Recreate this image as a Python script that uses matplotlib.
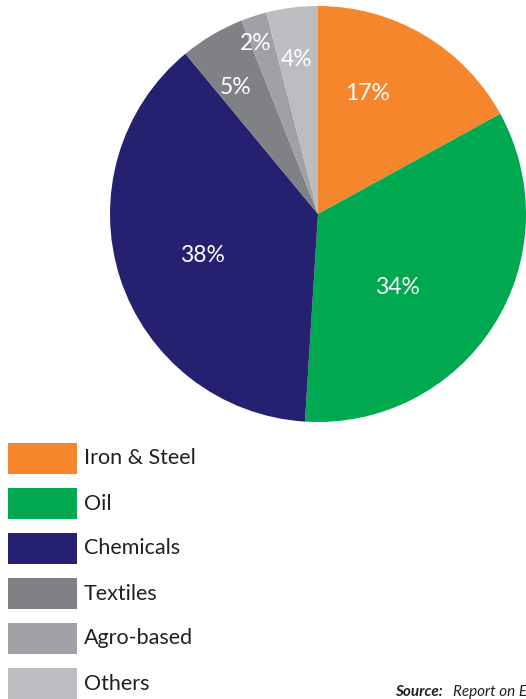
import matplotlib

matplotlib.use("Agg")

import matplotlib.pyplot as plt  # noqa: E402
from matplotlib.patches import Rectangle  # noqa: E402

sectors = ["Iron & Steel", "Oil", "Chemicals", "Textiles", "Agro-based", "Others"]
shares = [17, 34, 38, 5, 2, 4]
colors = ["#F5862B", "#00A94F", "#25206F", "#808184", "#A0A1A5", "#BCBDC1"]

W, H = 526, 699
FONT = "Lato"
INK = "#231F20"

fig = plt.figure(figsize=(W / 100, H / 100), dpi=100)
ax = fig.add_axes([0, 0, 1, 1])

cx, cy, r = 318, H - 214, 208
wedges, _, pct_texts = ax.pie(
    shares,
    colors=colors,
    center=(cx, cy),
    radius=r,
    startangle=90,
    counterclock=False,
    autopct="%d%%",
    pctdistance=0.6,
    textprops=dict(color="white", fontsize=16.5, family=FONT),
    wedgeprops=dict(linewidth=0),
    frame=True,
)
ax.set_xlim(0, W)
ax.set_ylim(0, H)
ax.set_aspect("equal")
ax.axis("off")

# hand-placed percentage labels (pixel positions, y from top)
label_xy = [(368, 94), (397, 287), (202, 256), (236, 88), (256, 44), (297, 60)]
for t, (x, y) in zip(pct_texts, label_xy):
    t.set_position((x, H - y))

# legend: colour swatches with labels stacked down the left edge
for i, (name, col) in enumerate(zip(sectors, colors)):
    top = 443 + i * 45
    ax.add_patch(Rectangle((8, H - top - 31), 69, 31, facecolor=col, edgecolor="none"))
    ax.text(84, H - top - 15.5, name, fontsize=15.5, family=FONT, color=INK,
            va="center", ha="left")

ax.text(395, H - 692, "Source:", fontsize=11, family=FONT, weight="bold",
        style="italic", color=INK, va="center", ha="left")
ax.text(453, H - 692, "Report on Economic Survey", fontsize=11, family=FONT,
        style="italic", color=INK, va="center", ha="left")

fig.savefig("out.png", dpi=100)
plt.close(fig)
